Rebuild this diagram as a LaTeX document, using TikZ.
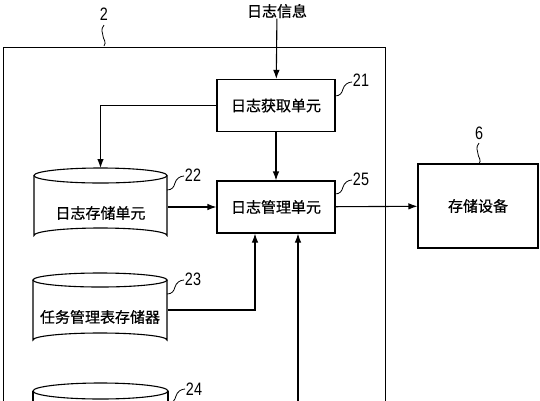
\documentclass[tikz,border=0pt]{standalone}
\usepackage{fontspec}
\newfontfamily\cjk[FakeBold=0.6]{Noto Sans CJK SC}
\newfontfamily\numfont{Liberation Sans}
\usetikzlibrary{arrows.meta,calc}
\newcommand\reflab[1]{\scalebox{0.8}[1]{#1}}
\newcommand\hsq[1]{\draw[squig] #1 .. controls +(5,0) and +(-1,4) .. ++(8,-7) .. controls +(1,-4) and +(-4,0) .. ++(9,-7);}
\newcommand\vsq[1]{\draw[squig] #1 .. controls +(-4,5) and +(0,-3) .. ++(-1,11) .. controls +(0,3) and +(3,-4) .. ++(1,10);}
\begin{document}
\begin{tikzpicture}[x=1pt,y=-1pt,line width=1.1pt,
  box/.style={draw,minimum width=118pt,minimum height=52pt,inner sep=0pt,font=\cjk\fontsize{15}{17}\selectfont},
  txt/.style={font=\cjk\fontsize{15}{17}\selectfont,inner sep=0pt},
  body/.style={inner sep=0pt,minimum width=134pt,minimum height=60pt},
  num/.style={font=\numfont\fontsize{18}{18}\selectfont,inner sep=0pt},
  arr/.style={-{Latex[length=9pt,width=6.5pt]}},
  squig/.style={line width=0.8pt}]
\useasboundingbox (0,0) rectangle (540,400);
\clip (0,0) rectangle (540,400);
\fill[white] (0,0) rectangle (540,400);

% outer system box 2
\node (sys) [draw,inner sep=0pt,minimum width=382pt,minimum height=400pt,anchor=north west] at (3,47) {};

% boxes
\node (b21) [box] at (276,105.5) {日志获取单元};
\node (b25) [box] at (276,207) {日志管理单元};
\node (b6) [box,minimum width=120pt,minimum height=84pt] at (478,206) {存储设备};
\node (info) [txt] at (277,11) {日志信息};

% cylinder 22
\draw (100.5,175.5) ellipse [x radius=66.5,y radius=7.5];
\draw (34,175.5) -- (34,235.5) arc[start angle=180,end angle=360,x radius=66.5,y radius=7.5] -- (167,175.5);
\node (c22) [body] at (100.5,205.5) {};
\coordinate (c22top) at (100.5,168);
\node (t22) [txt] at (100.5,213) {日志存储单元};

% cylinder 23
\draw (100,280) ellipse [x radius=67,y radius=7];
\draw (33,280) -- (33,340) arc[start angle=180,end angle=360,x radius=67,y radius=7] -- (167,280);
\node (c23) [body] at (100,310) {};
\node (t23) [txt] at (100,317) {任务管理表存储器};

% cylinder 24
\draw (100.5,391) ellipse [x radius=67.5,y radius=8];
\draw (33,391) -- (33,430);
\draw (168,391) -- (168,430);

% reference numbers
\node (n2) [num] at (104,14) {\reflab{2}};
\node (n21) [num] at (361,80) {\reflab{21}};
\node (n25) [num] at (361,179) {\reflab{25}};
\node (n22) [num] at (193,175) {\reflab{22}};
\node (n23) [num] at (193,279) {\reflab{23}};
\node (n24) [num] at (194,389) {\reflab{24}};
\node (n6) [num] at (479,133) {\reflab{6}};
\vsq{(104,25)}
\vsq{(479,143)}
\hsq{(335,96)}
\hsq{(335,194)}
\hsq{(167,190)}
\hsq{(167,294)}
\hsq{(168,403)}

% connectors
\coordinate (x255) at (255,0);
\coordinate (src) at (298,420);
\draw[arr] (info) -- (b21);
\draw[arr] (b21.west) -| (c22top);
\draw[arr] (b21) -- (b25);
\draw[arr] (c22.east |- b25.west) -- (b25.west);
\draw[arr] (b25) -- (b6);
\draw[arr] (c23.east) -| (x255 |- b25.south);
\draw[arr] (src) -- (src |- b25.south);
\end{tikzpicture}
\end{document}
